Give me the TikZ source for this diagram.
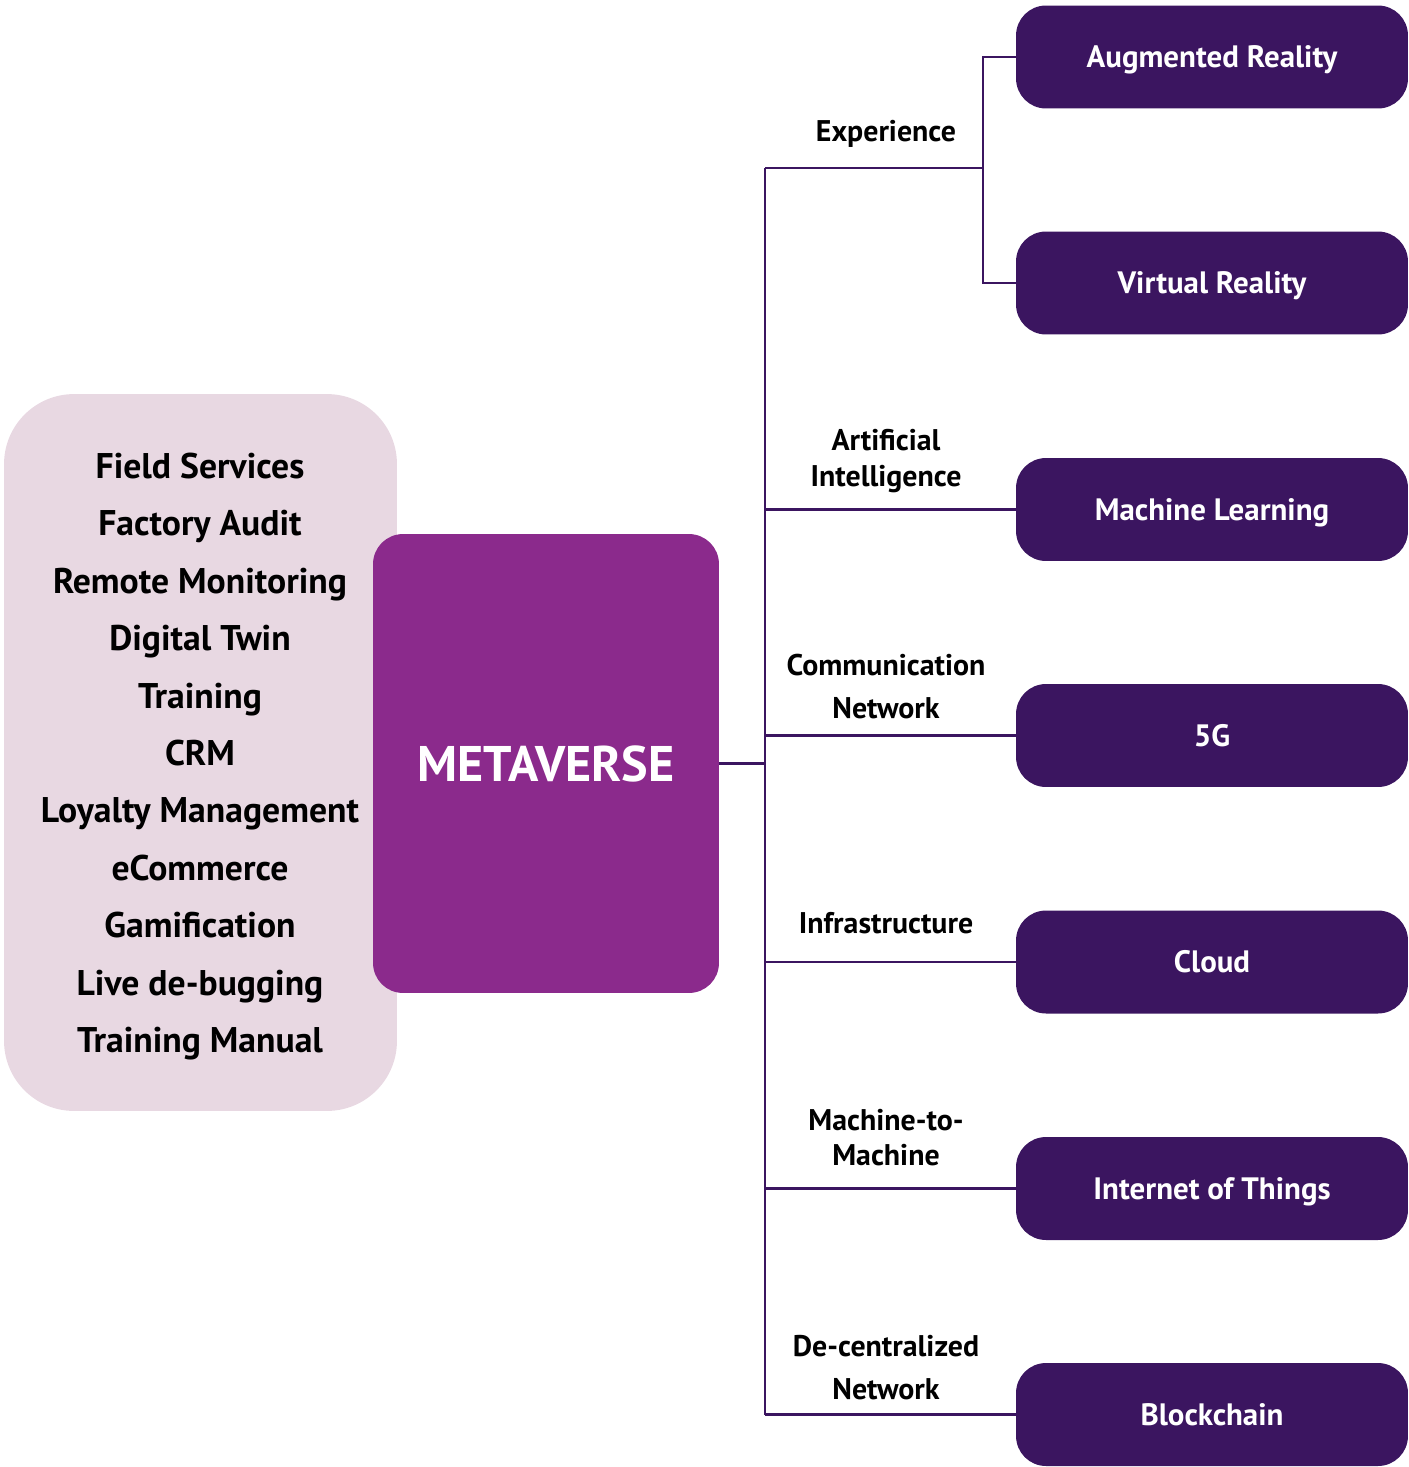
\documentclass[tikz,border=0pt]{standalone}
\usepackage{fontspec}
\setmainfont{PT Sans}
\usepackage{xcolor}
\definecolor{techpurple}{HTML}{3B1560}
\definecolor{metapurple}{HTML}{8B2A8C}
\definecolor{usepink}{HTML}{E8D8E2}

\begin{document}
\begin{tikzpicture}[x=0.02cm,y=-0.02cm,
  tech/.style={fill=techpurple,rounded corners=0.6cm,minimum width=7.84cm,minimum height=2.06cm,text height=12.3pt,text depth=0pt,text=white,font=\bfseries\fontsize{17.6}{20}\selectfont},
  lbl/.style={align=center,font=\bfseries\fontsize{17}{20}\selectfont},
  usecase/.style={anchor=base,font=\bfseries\fontsize{20.3}{24}\selectfont},
  link/.style={draw=techpurple,line width=1.4pt}]
\useasboundingbox(0,0)rectangle(1409,1467);
\node[fill=usepink,rounded corners=1.4cm,minimum width=7.86cm,minimum height=14.34cm](uses)at(200.5,752.5){};
\foreach \t[count=\i] in {Field Services,Factory Audit,Remote Monitoring,Digital Twin,Training,CRM,Loyalty Management,eCommerce,Gamification,Live de-bugging,Training Manual}
  \node[usecase](use\i)at(200,421+57.4*\i){\t};
\node[fill=metapurple,rounded corners=0.6cm,minimum width=6.92cm,minimum height=9.18cm,text height=20pt,text depth=0pt,text=white,font=\bfseries\fontsize{28.5}{34}\selectfont](meta)at(546,763.5){METAVERSE};
\node[tech](ar)at(1212,57){Augmented Reality};
\node[tech](vr)at(1212,283){Virtual Reality};
\node[tech](ml)at(1212,509.5){Machine Learning};
\node[tech](fiveg)at(1212,735.5){5G};
\node[tech](cloud)at(1212,962){Cloud};
\node[tech](iot)at(1212,1188.5){Internet of Things};
\node[tech](chain)at(1212,1414.5){Blockchain};
\coordinate(top)at(765,168);
\coordinate(bottom)at(765,1414.5);
\coordinate(xp)at(983,168);
\draw[link](top)--(bottom);
\draw[link](meta.east)--(meta.east-|top);
\draw[link](top)--(xp);
\draw[link](ar.west)-|(xp)|-(vr.west);
\draw[link](ml.west)--(ml.west-|top);
\draw[link](fiveg.west)--(fiveg.west-|top);
\draw[link](cloud.west)--(cloud.west-|top);
\draw[link](iot.west)--(iot.west-|top);
\draw[link](chain.west)--(chain.west-|top);
\node[lbl](exp)at(886,134){Experience};
\node[lbl](ai)at(886,461){Artificial\\Intelligence};
\node[lbl,font=\bfseries\fontsize{17}{24.5}\selectfont](comm)at(886,687){Communication\\Network};
\node[lbl](infra)at(886,923){Infrastructure};
\node[lbl](mtm)at(886,1138){Machine-to-\\Machine};
\node[lbl,font=\bfseries\fontsize{17}{24.5}\selectfont](decent)at(886,1368){De-centralized\\Network};
\end{tikzpicture}
\end{document}
